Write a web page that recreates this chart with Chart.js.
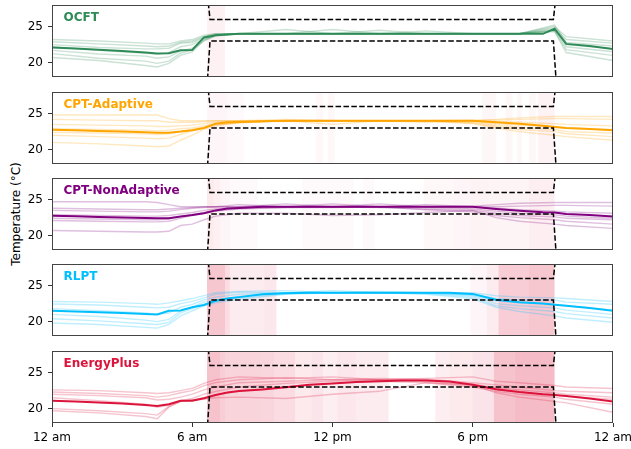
<!DOCTYPE html>
<html>
<head>
<meta charset="utf-8">
<script src="https://cdn.jsdelivr.net/npm/chart.js@4.4.1/dist/chart.umd.min.js"></script>
<style>
  html, body { margin: 0; padding: 0; background: #fff; }
  #wrap { position: relative; width: 631px; height: 449px; overflow: hidden; }
  #wrap canvas { position: absolute; left: 0; }
  #ylabel {
    position: absolute; left: 16px; top: 214px;
    transform: translate(-50%, -50%) rotate(-90deg);
    font: 12px 'DejaVu Sans', sans-serif; white-space: nowrap; color: #000;
  }
</style>
</head>
<body>
<div id="wrap">
  <div id="ylabel">Temperature (°C)</div>
</div>
<script>
// shared time grids (hours after midnight)
const hours = [0,1,2,3,4,4.5,5,5.5,6,6.5,7,7.5,8,9,10,11,12,13,14,15,16,17,18,19,20,21,21.5,22,23,24];
const runHours = [0,2,4,4.5,5,5.5,6,6.5,7,8,10,12,14,16,18,19,20,21.5,22,24];
const tickHours = [0,6,12,18,24];
const tickLabels = ['12 am','6 am','12 pm','6 pm','12 am'];
const yTicks = [20,25];

// comfort band (setback outside occupied hours)
const boundHours = [0,6.6,6.76,21.45,21.62,24];
const lowerBound = [15,15,23,23,15,15];
const upperBound = [31,31,26,26,31,31];

// --- OCFT ---
const ocftMean = [22.1,21.95,21.8,21.6,21.4,21.25,21.3,21.7,21.75,23.5,23.8,23.9,24,24,24,24,24,24,24,24,24,24,24,24,24,24,24.7,22.6,22.3,21.9];
const ocftRuns = [
  [23.2,23.0,22.7,22.6,22.6,23.0,23.2,23.8,24,24,24,24.6,24,24,24,24,24,25.0,23.6,23.0],
  [22.9,22.6,22.3,22.2,22.3,22.8,23.0,23.6,24,24,24.6,24,24.5,24,24,24,24,24.8,23.2,22.7],
  [22.5,22.1,21.9,21.9,22.0,22.7,22.8,23.5,23.9,24,24,24,24,24.4,24,24,24,25.2,22.8,22.3],
  [22.2,21.7,21.3,21.2,21.4,22.2,22.5,23.3,23.8,24,24,24,24,24,24,24,24,24.6,22.5,21.9],
  [21.7,21.2,20.9,20.6,20.8,21.6,22.0,23.2,23.8,24,24,24,24,24,24,24,24,24.5,22.2,21.5],
  [21.25,20.6,20.2,19.9,20.2,21.3,21.8,23.0,23.7,24,24,24,24,24,24,24,24,24.4,21.8,21.0],
  [20.7,20.3,19.6,19.4,19.9,21.0,21.5,23.1,23.8,24,24,24,24,24,24,24,24,24.3,21.4,20.3]
];
const ocftDiscomfort = [[6.63,7.4,0.2]];

// --- CPT-Adaptive ---
const adaptMean = [22.75,22.7,22.6,22.5,22.4,22.35,22.35,22.5,22.7,23.0,23.6,23.8,23.85,23.95,24,24,24,24,24,24,24,24,24,23.8,23.6,23.3,23.15,23.0,22.85,22.7];
const adaptRuns = [
  [24.8,24.8,24.8,24.8,24.3,24.0,24.0,24.0,24.0,24.0,24.2,24.0,24,24,24.1,24.2,24.4,24.6,24.6,24.6],
  [24.2,24.1,24.0,24.0,23.8,23.8,23.8,23.9,24,24,24,24,24,24,24,24.1,24.2,24.3,24.3,24.2],
  [23.5,23.4,23.3,23.2,23.2,23.3,23.4,23.6,23.8,24,23.9,24,24,24,23.9,23.9,23.8,23.6,23.5,23.3],
  [22.9,22.8,22.7,22.6,22.7,22.9,23.0,23.3,23.6,23.8,24,24,24,23.8,24,23.6,23.4,23.2,23.0,22.8],
  [22.4,22.3,22.2,22.1,22.2,22.5,22.8,23.1,23.5,23.8,24,23.5,24,24,23.8,23.4,23.1,22.8,22.5,22.3],
  [22.0,21.8,21.6,21.5,21.6,22.1,22.6,23.0,23.4,23.7,24,24,24,24,23.7,23.2,22.8,22.5,22.2,21.8],
  [21.0,20.8,20.5,20.4,20.5,21.3,22.0,22.8,23.3,23.8,24,24,24,24,23.6,23.0,22.5,22.0,21.8,21.3]
];
const adaptDiscomfort = [[6.63,7.5,0.15],[7.5,8.2,0.08],[11.3,11.6,0.1],[11.8,12.1,0.1],[18.4,19.0,0.12],[19.4,19.7,0.12],[19.9,20.1,0.12],[20.4,20.7,0.12],[20.8,21.5,0.18]];

// --- CPT-NonAdaptive ---
const nonAdaptMean = [22.75,22.7,22.6,22.5,22.45,22.4,22.4,22.65,22.85,23.1,23.5,23.75,23.85,24,24,24,24,24,24,24,24,24,24,23.7,23.45,23.25,23.2,23.0,22.85,22.65];
const nonAdaptRuns = [
  [24.7,24.7,24.7,24.6,24.3,24.0,24.0,24.0,24.0,24,24.4,24,24.4,24,24.1,24.3,24.5,24.6,24.6,24.6],
  [23.8,23.7,23.6,23.6,23.7,23.8,23.9,24,24,24.3,24,24.4,24,24.3,24,24,24.1,24.2,24.2,24.1],
  [23.5,23.4,23.3,23.3,23.4,23.6,23.8,23.9,24,24,24,24,24,24,23.9,23.8,23.6,23.4,23.3,23.1],
  [22.9,22.8,22.7,22.7,22.8,23.0,23.2,23.5,23.7,23.9,24,24,24,23.9,23.7,23.4,23.1,22.9,22.7,22.4],
  [22.4,22.3,22.2,22.2,22.3,22.6,22.9,23.2,23.5,23.8,23.9,24,23.9,23.7,23.5,23.1,22.8,22.6,22.4,22.2],
  [22.1,22.0,21.9,21.9,22.0,22.4,22.8,23.1,23.4,23.7,23.9,23.9,24,23.6,23.3,22.8,22.5,22.2,22.0,21.6],
  [20.7,20.6,20.5,20.5,20.6,21.4,21.6,22.2,22.7,23.1,23.1,22.8,22.9,23.2,23.5,22.5,22.0,21.6,21.4,21.0]
];
const nonAdaptDiscomfort = [[6.63,6.9,0.3],[6.9,7.2,0.22],[7.2,7.6,0.15],[7.6,8.8,0.08],[10.7,11.9,0.06],[11.9,12.9,0.08],[13.3,13.8,0.06],[15.9,17.2,0.1],[17.2,17.9,0.14],[17.9,18.7,0.18],[18.7,20.4,0.16],[20.4,21.5,0.24]];

// --- RLPT ---
const rlptMean = [21.5,21.4,21.3,21.2,21.05,21.0,21.5,21.55,22.0,22.3,22.9,23.2,23.4,23.8,23.95,24,24,24,24,24,24,24,23.85,23.05,22.7,22.5,22.35,22.2,21.9,21.5];
const rlptRuns = [
  [22.8,22.7,22.5,22.4,22.6,22.9,23.2,23.6,24.0,24.2,24.3,24.0,24.2,24,24.0,23.6,23.4,23.3,23.2,22.8],
  [22.45,22.3,22.0,21.9,22.0,22.5,22.8,23.3,23.8,24.1,24,24.3,24,24,23.8,23.2,23.0,23.0,22.7,22.4],
  [21.8,21.5,21.2,21.0,21.2,22.0,22.4,23.0,23.4,23.8,24,24,24,24,23.7,22.9,22.6,22.4,22.2,21.6],
  [21.0,20.7,20.2,20.0,20.3,21.5,22.0,22.7,23.0,23.5,24,24,24,24,23.6,22.5,22.2,21.9,21.6,21.0],
  [20.4,20.1,19.7,19.6,19.9,21.2,21.8,22.4,22.8,23.3,23.9,24,24,23.9,23.4,22.2,21.8,21.4,21.1,20.5],
  [19.8,19.6,19.2,19.1,19.6,20.8,21.5,22.2,22.6,23.1,23.8,24,24,23.8,23.2,22.0,21.4,20.8,20.5,19.9]
];
const rlptDiscomfort = [[6.63,7.4,0.8],[7.4,7.6,0.5],[7.6,9.1,0.28],[9.1,9.6,0.33],[17.9,18.6,0.14],[18.6,19.1,0.28],[19.1,20.4,0.7],[20.4,21.5,0.8]];

// --- EnergyPlus ---
const eplusMean = [21.1,21.0,20.85,20.7,20.5,20.35,20.6,21.1,21.1,21.45,21.9,22.25,22.45,22.65,22.95,23.3,23.5,23.7,23.8,23.9,23.9,23.75,23.3,22.7,22.3,22.0,21.9,21.75,21.4,21.0];
const eplusRuns = [
  [22.6,22.5,22.2,22.1,22.2,22.5,22.8,23.5,24.0,24.4,24.2,24.4,24.0,24.2,24.4,23.8,23.6,23.2,23.0,22.8],
  [22.3,22.1,21.8,21.6,21.8,22.2,22.5,23.2,23.6,24.0,24.3,24.0,24.2,24.1,23.6,23.3,23.0,22.5,22.4,22.2],
  [22.0,21.8,21.5,21.2,21.3,21.6,22.0,22.6,23.0,23.6,23.8,24.0,24.0,24.0,23.4,22.9,22.6,22.2,22.0,21.6],
  [21.5,21.1,20.6,20.2,20.5,21.1,21.4,22.0,22.4,23.0,23.5,23.8,24.0,23.8,23.2,22.6,22.3,21.9,21.7,21.3],
  [20.0,19.7,19.3,19.1,20.3,21.0,21.2,21.5,21.9,22.4,23.0,23.5,23.8,23.6,23.0,22.4,22.0,21.6,21.3,20.6],
  [19.7,19.4,18.9,18.6,20.2,21.0,21.2,21.3,21.5,21.6,21.4,22.0,22.4,23.6,23.3,22.2,21.6,21.0,20.8,19.5]
];
const eplusDiscomfort = [[6.63,7.2,0.85],[7.2,7.4,0.7],[7.4,8.9,0.62],[8.9,9.5,0.57],[9.5,10.4,0.5],[10.4,11.1,0.3],[11.1,11.6,0.36],[11.6,12.2,0.24],[12.2,13.0,0.33],[13.0,14.4,0.28],[16.4,17.0,0.24],[17.0,18.0,0.3],[18.0,18.9,0.38],[18.9,19.8,0.85],[19.8,21.5,0.95]];

Chart.defaults.font.family = "'DejaVu Sans', sans-serif";
Chart.defaults.font.size = 12;
Chart.defaults.color = '#000';

const panels = [
  { name: 'OCFT', rgb: '46,139,87', mean: ocftMean, runs: ocftRuns, bands: ocftDiscomfort },
  { name: 'CPT-Adaptive', rgb: '255,165,0', mean: adaptMean, runs: adaptRuns, bands: adaptDiscomfort },
  { name: 'CPT-NonAdaptive', rgb: '128,0,128', mean: nonAdaptMean, runs: nonAdaptRuns, bands: nonAdaptDiscomfort },
  { name: 'RLPT', rgb: '0,191,255', mean: rlptMean, runs: rlptRuns, bands: rlptDiscomfort },
  { name: 'EnergyPlus', rgb: '220,20,60', mean: eplusMean, runs: eplusRuns, bands: eplusDiscomfort }
];
const panelTops = [5, 92, 178, 264, 351];

const pts = (xs, ys) => xs.map((x, i) => ({ x: x, y: ys[i] }));

const wrap = document.getElementById('wrap');

panels.forEach((p, i) => {
  const last = i === panels.length - 1;
  const canvas = document.createElement('canvas');
  const h = last ? 103 : 82;
  canvas.width = 631;
  canvas.height = h;
  canvas.style.top = (panelTops[i] - 5) + 'px';
  wrap.appendChild(canvas);

  const dashed = (vals) => ({
    data: pts(boundHours, vals),
    borderColor: '#000', borderWidth: 1.5, borderDash: [5.5, 2.4],
    pointRadius: 0, fill: false, tension: 0
  });

  const datasets = [
    dashed(upperBound),
    dashed(lowerBound),
    { data: pts(hours, p.mean), borderColor: `rgb(${p.rgb})`, borderWidth: 2, pointRadius: 0, tension: 0 }
  ];
  p.runs.forEach(r => datasets.push({
    data: pts(runHours, r), borderColor: `rgba(${p.rgb},0.25)`, borderWidth: 1.4, pointRadius: 0, tension: 0
  }));

  new Chart(canvas.getContext('2d'), {
    type: 'line',
    data: { datasets: datasets },
    options: {
      responsive: false,
      animation: false,
      devicePixelRatio: 1,
      events: [],
      layout: { padding: { top: 5, bottom: last ? 0 : 5, left: 0, right: 18 } },
      plugins: { legend: { display: false }, tooltip: { enabled: false } },
      scales: {
        x: {
          type: 'linear', min: 0, max: 24,
          display: last,
          afterBuildTicks: (s) => { s.ticks = tickHours.map(v => ({ value: v })); },
          afterFit: (s) => {
            if (last) s.height = 26; else s.height = 0;
            s.paddingLeft = 0; s.paddingRight = 0;
          },
          ticks: { maxRotation: 0, autoSkip: false, padding: 4,
                   callback: (v) => tickLabels[tickHours.indexOf(v)] },
          grid: { drawOnChartArea: false, drawTicks: true, tickLength: 4, color: '#333' },
          border: { display: false }
        },
        y: {
          min: 18, max: 28,
          afterBuildTicks: (s) => { s.ticks = yTicks.map(v => ({ value: v })); },
          afterFit: (s) => { s.width = 52; s.paddingTop = 0; s.paddingBottom = 0; },
          ticks: { padding: 5 },
          grid: { drawOnChartArea: false, drawTicks: true, tickLength: 4, color: '#333' },
          border: { display: false }
        }
      }
    },
    plugins: [{
      id: 'discomfort',
      beforeDatasetsDraw(chart) {
        const { ctx, chartArea: a, scales: { x } } = chart;
        ctx.save();
        p.bands.forEach(([s, e, v]) => {
          const x0 = x.getPixelForValue(s), x1 = x.getPixelForValue(e);
          ctx.fillStyle = `rgba(220,20,60,${(0.3 * v).toFixed(3)})`;
          ctx.fillRect(x0, a.top, x1 - x0, a.bottom - a.top);
        });
        ctx.restore();
      },
      afterDatasetsDraw(chart) {
        const { ctx, chartArea: a } = chart;
        ctx.save();
        ctx.strokeStyle = '#444';
        ctx.lineWidth = 1;
        ctx.strokeRect(a.left + 0.5, a.top + 0.5, a.right - a.left - 1, a.bottom - a.top - 1);
        ctx.fillStyle = `rgb(${p.rgb})`;
        ctx.font = "bold 12px 'DejaVu Sans', sans-serif";
        ctx.textBaseline = 'middle';
        ctx.fillText(p.name, a.left + 11.5, a.top + 12.5);
        ctx.restore();
      }
    }]
  });
});
</script>
</body>
</html>
